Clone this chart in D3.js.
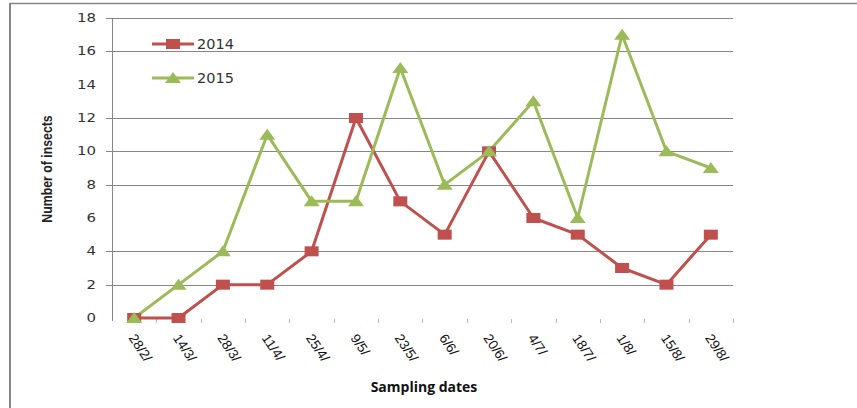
<!DOCTYPE html>
<html>
<head>
<meta charset="utf-8">
<script src="https://cdn.jsdelivr.net/npm/d3@7"></script>
<style>
  body { margin: 0; background: #fff; }
  svg { display: block; }
</style>
</head>
<body>
<script>
var dates = ['28/2/', '14/3/', '28/3/', '11/4/', '25/4/', '9/5/', '23/5/',
             '6/6/', '20/6/', '4/7/', '18/7/', '1/8/', '15/8/', '29/8/'];
var insects2014 = [0, 0, 2, 2, 4, 12, 7, 5, 10, 6, 5, 3, 2, 5];
var insects2015 = [0, 2, 4, 11, 7, 7, 15, 8, 10, 13, 6, 17, 10, 9];
var yTicks = [0, 2, 4, 6, 8, 10, 12, 14, 16, 18];
// gridlines that show up in the picture (6 and 14 are lost in it)
var gridValues = [2, 4, 8, 10, 12, 16, 18];
var seriesNames = ['2014', '2015'];

var width = 857, height = 408;
var margin = { top: 18, right: 124, bottom: 90, left: 112 };
var red = '#c0504d', green = '#9bbb59', grey = '#868686';

var svg = d3.select('body').append('svg')
    .attr('width', width)
    .attr('height', height);

// frame of the figure
svg.append('line')
    .attr('x1', 10).attr('x2', width)
    .attr('y1', 3.5).attr('y2', 3.5)
    .attr('stroke', grey).attr('stroke-width', 1.5);
svg.append('line')
    .attr('x1', 10).attr('x2', 10)
    .attr('y1', 3).attr('y2', height)
    .attr('stroke', grey).attr('stroke-width', 2);

var xScale = d3.scaleBand()
    .domain(dates)
    .range([margin.left, width - margin.right]);

var yScale = d3.scaleLinear()
    .domain([0, 18])
    .range([height - margin.bottom, margin.top]);

function cx(d, i) { return xScale(dates[i]) + xScale.bandwidth() / 2; }

// gridlines
svg.append('g').selectAll('line')
    .data(gridValues)
    .enter().append('line')
    .attr('x1', margin.left - 6)
    .attr('x2', width - margin.right)
    .attr('y1', function (d) { return Math.round(yScale(d)) + 0.5; })
    .attr('y2', function (d) { return Math.round(yScale(d)) + 0.5; })
    .attr('stroke', grey).attr('stroke-width', 1);

// y axis line
svg.append('line')
    .attr('x1', margin.left + 0.5).attr('x2', margin.left + 0.5)
    .attr('y1', yScale(18)).attr('y2', yScale(0) + 3)
    .attr('stroke', grey).attr('stroke-width', 1);

// y tick labels
svg.append('g').selectAll('text')
    .data(yTicks)
    .enter().append('text')
    .attr('transform', function (d) {
        return 'translate(96,' + (yScale(d) + 4) + ') scale(1.3,1)';
    })
    .attr('text-anchor', 'end')
    .style('font-family', 'DejaVu Sans')
    .style('font-size', '11.5px')
    .style('fill', '#333')
    .text(function (d) { return d; });

// x ticks at category boundaries
var boundaries = dates.map(function (d) { return xScale(d) + xScale.bandwidth(); });
svg.append('g').selectAll('line')
    .data(boundaries)
    .enter().append('line')
    .attr('x1', function (d) { return Math.round(d) + 0.5; })
    .attr('x2', function (d) { return Math.round(d) + 0.5; })
    .attr('y1', yScale(0) + 1)
    .attr('y2', yScale(0) + 5)
    .attr('stroke', '#b8b8b8').attr('stroke-width', 1);

// x tick labels
svg.append('g').selectAll('text')
    .data(dates)
    .enter().append('text')
    .attr('transform', function (d) {
        var x = xScale(d) + xScale.bandwidth() / 2 - 6;
        return 'translate(' + x + ',' + (yScale(0) + 20) + ') rotate(56)';
    })
    .style('font-family', 'Liberation Sans')
    .style('font-size', '13.5px')
    .style('fill', '#111')
    .text(function (d) { return d; });

// axis titles
svg.append('text')
    .attr('transform', 'translate(52,169) rotate(-90) scale(0.88,1)')
    .attr('text-anchor', 'middle')
    .style('font-family', 'Liberation Sans')
    .style('font-weight', 'bold')
    .style('font-size', '14px')
    .style('fill', '#222')
    .text('Number of insects');

svg.append('text')
    .attr('x', 424).attr('y', 392)
    .attr('text-anchor', 'middle')
    .style('font-family', 'Open Sans')
    .style('font-weight', 'bold')
    .style('font-size', '14px')
    .style('fill', '#111')
    .text('Sampling dates');

// lines
var line = d3.line()
    .x(function (d, i) { return cx(d, i); })
    .y(function (d) { return yScale(d); });

svg.append('path')
    .datum(insects2014)
    .attr('d', line)
    .attr('fill', 'none')
    .attr('stroke', red).attr('stroke-width', 3)
    .attr('stroke-linejoin', 'round');

svg.append('path')
    .datum(insects2015)
    .attr('d', line)
    .attr('fill', 'none')
    .attr('stroke', green).attr('stroke-width', 3)
    .attr('stroke-linejoin', 'round');

// markers
function trianglePath(x, y) {
    return 'M' + (x - 8) + ',' + (y + 5) + 'L' + x + ',' + (y - 6) +
           'L' + (x + 8) + ',' + (y + 5) + 'Z';
}

svg.append('g').selectAll('rect')
    .data(insects2014)
    .enter().append('rect')
    .attr('x', function (d, i) { return cx(d, i) - 7; })
    .attr('y', function (d) { return yScale(d) - 5; })
    .attr('width', 14)
    .attr('height', 10)
    .attr('fill', red);

svg.append('g').selectAll('path')
    .data(insects2015)
    .enter().append('path')
    .attr('d', function (d, i) { return trianglePath(cx(d, i), yScale(d)); })
    .attr('fill', green);

// legend
var legend = svg.append('g');
var legendY = [44, 78];
seriesNames.forEach(function (name, i) {
    var col = i === 0 ? red : green;
    var g = legend.append('g');
    g.append('line')
        .attr('x1', 152).attr('x2', 194)
        .attr('y1', legendY[i]).attr('y2', legendY[i])
        .attr('stroke', col).attr('stroke-width', 3);
    if (i === 0) {
        g.append('rect')
            .attr('x', 166).attr('y', legendY[i] - 5)
            .attr('width', 14).attr('height', 10)
            .attr('fill', col);
    } else {
        g.append('path')
            .attr('d', trianglePath(173, legendY[i]))
            .attr('fill', col);
    }
    g.append('text')
        .attr('x', 197).attr('y', legendY[i] + 5)
        .attr('transform', 'scale(1,1)')
        .style('font-family', 'DejaVu Sans')
        .style('font-size', '14.5px')
        .style('fill', '#333')
        .text(name);
});
</script>
</body>
</html>
